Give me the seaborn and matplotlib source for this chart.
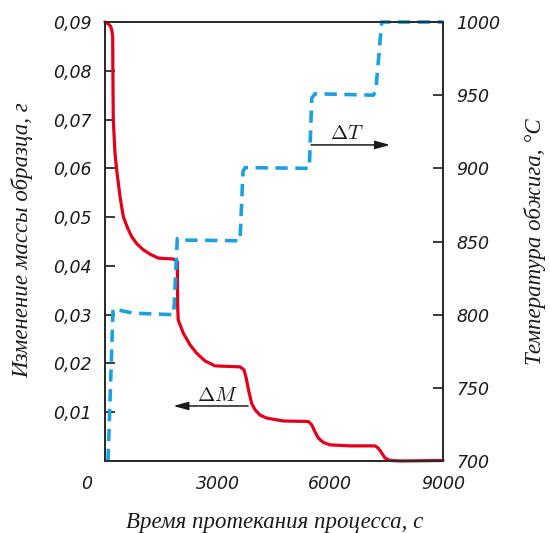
import numpy as np
import pandas as pd
import matplotlib
matplotlib.use("Agg")
import matplotlib.pyplot as plt
import matplotlib.transforms as mtransforms
import seaborn as sns

# mass change of the sample, g
mass_time = [0, 90, 150, 178, 205, 210, 221, 266, 311, 400, 488, 600, 710, 850, 1020,
             1200, 1420, 1820, 1925, 1935, 1950, 2085, 2265, 2440, 2665, 2930, 3595,
             3700, 3760, 3820, 3905, 3995, 4130, 4305, 4750, 5415, 5505, 5590, 5680,
             5815, 5990, 6525, 7190, 7280, 7370, 7455, 7590, 7855, 9000]
mass_value = [0.0900, 0.0896, 0.0891, 0.0884, 0.0870, 0.0800, 0.0700, 0.0631, 0.0597,
              0.0542, 0.0501, 0.0478, 0.0460, 0.0445, 0.0433, 0.0424, 0.0416, 0.0414,
              0.0409, 0.0316, 0.0289, 0.0262, 0.0238, 0.0221, 0.0205, 0.0195, 0.0193,
              0.0187, 0.0170, 0.0146, 0.0118, 0.0105, 0.0094, 0.0088, 0.0082, 0.0081,
              0.0074, 0.0060, 0.0047, 0.0038, 0.0033, 0.0031, 0.0031, 0.0026, 0.0016,
              0.0006, 0.0001, 0.0000, 0.0001]

# furnace temperature, °C
temp_time = [80, 215, 750, 1830, 1925, 2000, 3595, 3675, 3730, 5440, 5505, 5593,
             7145, 7209, 7369, 9000]
temp_value = [700, 804, 801, 800, 852, 851, 850.5, 898, 900.5, 900, 948, 951,
              950, 953, 1000, 1000]

x_ticks = [0, 3000, 6000, 9000]
x_tick_labels = ["0", "3000", "6000", "9000"]
mass_ticks = [0.01, 0.02, 0.03, 0.04, 0.05, 0.06, 0.07, 0.08, 0.09]
mass_tick_labels = ["0,01", "0,02", "0,03", "0,04", "0,05", "0,06", "0,07", "0,08", "0,09"]
temp_ticks = [700, 750, 800, 850, 900, 950, 1000]
temp_tick_labels = ["700", "750", "800", "850", "900", "950", "1000"]

mass_df = pd.DataFrame({"t": mass_time, "m": mass_value})
temp_df = pd.DataFrame({"t": temp_time, "T": temp_value})

sns.set_style("white")
plt.rcParams["mathtext.fontset"] = "cm"

red = "#e2001a"
blue = "#1ba1e2"
ink = "#2b2b2b"

fig = plt.figure(figsize=(5.5, 5.33), dpi=100)
ax = fig.add_axes([0.1909, 0.1351, 0.6146, 0.8236])
ax2 = ax.twinx()

sns.lineplot(data=mass_df, x="t", y="m", ax=ax, color=red, linewidth=2.3,
             sort=False, estimator=None, clip_on=False)
sns.lineplot(data=temp_df, x="t", y="T", ax=ax2, color=blue, linewidth=2.6,
             sort=False, estimator=None, dashes=False, clip_on=False)
ax2.lines[0].set_dashes((3.4, 2.1))

ax.set_xlim(0, 9000)
ax.set_ylim(0, 0.09)
ax2.set_ylim(700, 1000)

tick_font = dict(family="DejaVu Sans", style="oblique", size=12.5, color="#1a1a1a")
ax.set_xticks(x_ticks)
ax.set_xticklabels(x_tick_labels, **tick_font)
ax.set_yticks(mass_ticks)
ax.set_yticklabels(mass_tick_labels, **tick_font)
ax2.set_yticks(temp_ticks)
ax2.set_yticklabels(temp_tick_labels, **tick_font)

ax.tick_params(axis="x", direction="in", length=7, width=1.3, color=ink, pad=10, top=False)
ax.tick_params(axis="y", direction="in", length=7, width=1.3, color=ink, pad=9.5)
ax2.tick_params(axis="y", direction="in", length=7, width=1.3, color=ink, pad=9.5)

# the "0" under the origin sits a bit to the left
shift = mtransforms.ScaledTranslation(-13 / 72, 0, fig.dpi_scale_trans)
lbl0 = ax.get_xticklabels()[0]
lbl0.set_transform(lbl0.get_transform() + shift)

for a in (ax, ax2):
    for s in a.spines.values():
        s.set_color(ink)
        s.set_linewidth(1.3)

label_font = dict(family="Liberation Serif", style="italic", size=16.5, color="#1a1a1a")
ax.set_xlabel("Время протекания процесса, с", va="center", **label_font)
ax.set_ylabel("Изменение массы образца, г", va="center", **label_font)
ax2.set_ylabel("Температура обжига, °C", va="center", **label_font)
ax.xaxis.set_label_coords(0.503, -0.141)
ax.yaxis.set_label_coords(-0.2456, 0.503)
ax2.yaxis.set_label_coords(1.272, 0.5)

arrow = dict(arrowstyle="-|>,head_length=0.9,head_width=0.25", color="#1a1a1a",
             lw=1.1, shrinkA=0, shrinkB=0)
ax2.annotate("", xy=(7590, 916), xytext=(5485, 916), arrowprops=arrow)
ax2.text(6435, 924, r"$\Delta T$", ha="center", va="center", fontsize=15, color="#1a1a1a")
ax.annotate("", xy=(1820, 0.01128), xytext=(3810, 0.01128), arrowprops=arrow)
ax.text(3010, 0.0136, r"$\Delta M$", ha="center", va="center", fontsize=15, color="#1a1a1a")

fig.savefig("out.png", dpi=100)
